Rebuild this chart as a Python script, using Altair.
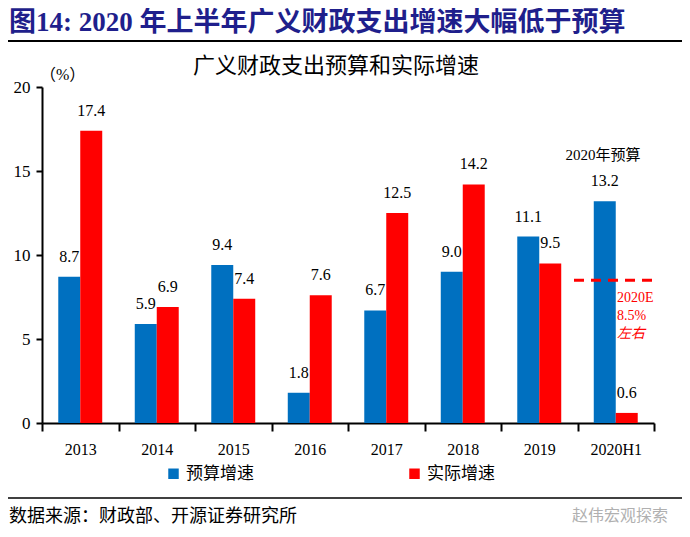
import altair as alt
import pandas as pd

years = ["2013", "2014", "2015", "2016", "2017", "2018", "2019", "2020H1"]
budget = [8.7, 5.9, 9.4, 1.8, 6.7, 9.0, 11.1, 13.2]
actual = [17.4, 6.9, 7.4, 7.6, 12.5, 14.2, 9.5, 0.6]
series = ["预算增速", "实际增速"]
colors = ["#0070C0", "#FF0000"]
y_ticks = [0, 5, 10, 15, 20]
target_2020 = 8.5

FONT = "Liberation Serif, Times New Roman, Noto Sans CJK SC"

rows = []
for y, b, a in zip(years, budget, actual):
    rows.append({"year": y, "series": series[0], "value": b})
    rows.append({"year": y, "series": series[1], "value": a})
df = pd.DataFrame(rows)

x_enc = alt.X("year:N", sort=years, title=None,
              scale=alt.Scale(paddingInner=0, paddingOuter=0),
              axis=alt.Axis(labelAngle=0, tickBand="extent", tickSize=8, tickWidth=2,
                            tickColor="black", domainColor="black", domainWidth=2,
                            labelFont=FONT, labelFontSize=16, labelColor="black",
                            labelPadding=10))
xo_enc = alt.XOffset("series:N", sort=series,
                     scale=alt.Scale(paddingInner=0, paddingOuter=0.74))
y_enc = alt.Y("value:Q", title=None,
              scale=alt.Scale(domain=[0, 20], nice=False),
              axis=alt.Axis(values=y_ticks, grid=False, tickSize=6, tickWidth=2,
                            tickColor="black", domainColor="black", domainWidth=2,
                            labelFont=FONT, labelFontSize=17, labelColor="black",
                            labelPadding=6))
color_enc = alt.Color("series:N", sort=series,
                      scale=alt.Scale(domain=series, range=colors),
                      legend=alt.Legend(title=None, orient="none", direction="horizontal",
                                        legendX=123, legendY=378, symbolType="square",
                                        symbolSize=110, symbolStrokeWidth=0,
                                        labelFont=FONT, labelFontSize=17,
                                        labelColor="black", columnPadding=152))

bars = alt.Chart(df).mark_bar().encode(x=x_enc, xOffset=xo_enc, y=y_enc, color=color_enc)

labels = alt.Chart(df).mark_text(baseline="bottom", dy=-12, font=FONT, fontSize=16,
                                 color="black").encode(
    x=alt.X("year:N", sort=years), xOffset=alt.XOffset("series:N", sort=series),
    y=alt.Y("value:Q"), text=alt.Text("value:Q", format=".1f"))

target = alt.Chart(pd.DataFrame({"v": [target_2020]})).mark_rule(
    color="#FF0000", strokeWidth=3, strokeDash=[10, 7]).encode(
    y=alt.Y("v:Q"), x=alt.value(532), x2=alt.value(615))


def txt(s, x, y, size, color="black", align="left", weight="normal", font=FONT, style="normal"):
    return alt.Chart(pd.DataFrame({"t": [s]})).mark_text(
        align=align, baseline="middle", fontSize=size, color=color,
        fontWeight=weight, font=font, fontStyle=style).encode(
        x=alt.value(x), y=alt.value(y), text="t:N")


def hline(x1, x2, y, width=1.5):
    return alt.Chart(pd.DataFrame({"a": [0]})).mark_rule(color="black", strokeWidth=width).encode(
        x=alt.value(x1), x2=alt.value(x2), y=alt.value(y))


ann1 = txt("2020E", 575, 211, 14, color="#FF0000")
ann2 = txt("8.5%", 575, 229, 14, color="#FF0000")
ann3 = txt("左右", 575, 247, 14, color="#FF0000", style="italic")

title = txt("图14:  2020 年上半年广义财政支出增速大幅低于预算", -33, -64, 27,
            color="#1F1F8C", weight="bold")
subtitle = txt("广义财政支出预算和实际增速", 294, -21, 22, align="center")
unit = txt("（%）", -2, -12, 16)
note2020 = txt("2020年预算", 561, 68, 15, align="center")
source = txt("数据来源：财政部、开源证券研究所", -33, 430, 18)
watermark = txt("赵伟宏观探索", 578, 429, 16, color="#B0B0B0", align="center")

chart = alt.layer(
    bars, labels, target, ann1, ann2, ann3, note2020, title, subtitle, unit, source, watermark,
    hline(-34, 642, -46, 2), hline(-34, 642, 411, 1.5)
).properties(
    width=612, height=336,
    autosize=alt.AutoSizeParams(type="none"),
    padding={"left": 34, "top": 79, "right": 28, "bottom": 112},
).configure_view(stroke=None)

chart.save("out.html", embed_options={"renderer": "svg", "actions": False})
